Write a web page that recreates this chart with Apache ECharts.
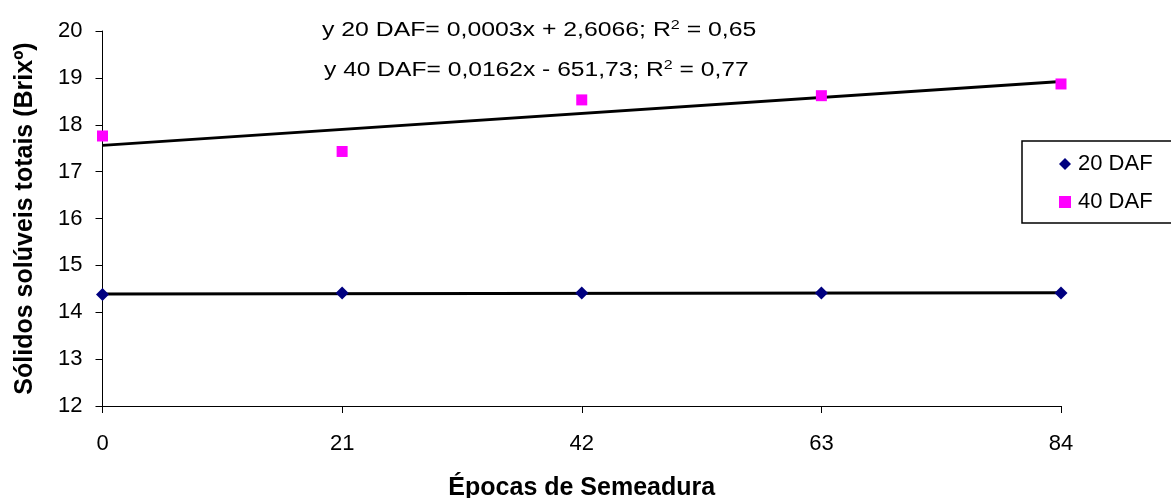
<!DOCTYPE html>
<html>
<head>
<meta charset="utf-8">
<script src="https://cdn.jsdelivr.net/npm/echarts@6/dist/echarts.min.js"></script>
<style>
html,body{margin:0;padding:0;background:#fff;}
#c{width:1171px;height:498px;}
</style>
</head>
<body>
<div id="c"></div>
<script>
// Data
const epocas = [0, 21, 42, 63, 84];
const daf20 = [14.38, 14.41, 14.41, 14.41, 14.41];
const daf40 = [17.76, 17.43, 18.53, 18.62, 18.87];
const xTicks = [0, 21, 42, 63, 84];
const yTicks = [12, 13, 14, 15, 16, 17, 18, 19, 20];
const eq20 = 'y 20 DAF= 0,0003x + 2,6066; R{sup|2} = 0,65';
const eq40 = 'y 40 DAF= 0,0162x - 651,73; R{sup|2} = 0,77';

function fit(xs, ys) {
  const n = xs.length;
  const mx = xs.reduce((a, b) => a + b, 0) / n;
  const my = ys.reduce((a, b) => a + b, 0) / n;
  let sxy = 0, sxx = 0;
  for (let i = 0; i < n; i++) { sxy += (xs[i] - mx) * (ys[i] - my); sxx += (xs[i] - mx) ** 2; }
  const b = sxy / sxx, a = my - b * mx;
  const x0 = Math.min(...xs), x1 = Math.max(...xs);
  return [[x0, a + b * x0], [x1, a + b * x1]];
}

const FONT = '"Liberation Sans", Arial, sans-serif';
const supStyle = { fontSize: 13, verticalAlign: 'top', padding: [0, 0, 10, 0], fontFamily: FONT };
const chart = echarts.init(document.getElementById('c'));
chart.setOption({
  animation: false,
  backgroundColor: '#fff',
  textStyle: { fontFamily: FONT, color: '#000' },
  grid: { left: 102.5, right: 110, top: 31, bottom: 92, containLabel: false, outerBoundsMode: 'none' },
  xAxis: {
    type: 'value', min: xTicks[0], max: xTicks[xTicks.length - 1], interval: 21,
    name: 'Épocas de Semeadura', nameLocation: 'middle', nameGap: 70,
    nameTextStyle: { fontFamily: FONT, fontWeight: 'bold', fontSize: 25, color: '#000' },
    axisLine: { show: true, onZero: false, lineStyle: { color: '#000', width: 1 } },
    axisTick: { show: true, inside: false, length: 7, lineStyle: { color: '#000', width: 1 } },
    axisLabel: { fontSize: 22, color: '#000', margin: 27, fontFamily: FONT },
    splitLine: { show: false }
  },
  yAxis: {
    type: 'value', min: yTicks[0], max: yTicks[yTicks.length - 1], interval: 1,
    name: 'Sólidos solúveis totais (Brixº)', nameLocation: 'middle', nameGap: 65, nameRotate: 90,
    nameTextStyle: { fontFamily: FONT, fontWeight: 'bold', fontSize: 25, color: '#000' },
    axisLine: { show: true, onZero: false, lineStyle: { color: '#000', width: 1 } },
    axisTick: { show: true, inside: false, length: 7, lineStyle: { color: '#000', width: 1 } },
    axisLabel: { fontSize: 22, color: '#000', margin: 20, fontFamily: FONT },
    splitLine: { show: false }
  },
  legend: {
    orient: 'vertical', left: 1022, top: 141,
    data: [{ name: '20 DAF', icon: 'diamond' }, { name: '40 DAF', icon: 'rect' }],
    itemWidth: 12, itemHeight: 12, itemGap: 16,
    padding: [12, 80, 10, 37],
    borderColor: '#000', borderWidth: 1.5, borderRadius: 0,
    textStyle: { fontSize: 22, color: '#000', fontFamily: FONT, lineHeight: 22, padding: [0, 0, 0, 2] },
    selectedMode: false
  },
  graphic: [
    { type: 'text', x: 322, y: 30.5, scaleX: 1.24, scaleY: 1,
      style: { text: eq20, font: '20px ' + FONT, fill: '#000', verticalAlign: 'middle', align: 'left', rich: { sup: supStyle } } },
    { type: 'text', x: 324, y: 70.5, scaleX: 1.23, scaleY: 1,
      style: { text: eq40, font: '20px ' + FONT, fill: '#000', verticalAlign: 'middle', align: 'left', rich: { sup: supStyle } } }
  ],
  series: [
    { name: 'trend20', type: 'line', data: fit(epocas, daf20), symbol: 'none', silent: true,
      lineStyle: { color: '#000', width: 3 }, z: 2 },
    { name: 'trend40', type: 'line', data: fit(epocas, daf40), symbol: 'none', silent: true,
      lineStyle: { color: '#000', width: 3 }, z: 2 },
    { name: '20 DAF', type: 'scatter', data: epocas.map((x, i) => [x, daf20[i]]),
      symbol: 'diamond', symbolSize: [13, 13], itemStyle: { color: '#000080', opacity: 1 }, z: 3 },
    { name: '40 DAF', type: 'scatter', data: epocas.map((x, i) => [x, daf40[i]]),
      symbol: 'rect', symbolSize: 11, itemStyle: { color: '#FF00FF', opacity: 1 }, z: 3 }
  ]
});
</script>
</body>
</html>
